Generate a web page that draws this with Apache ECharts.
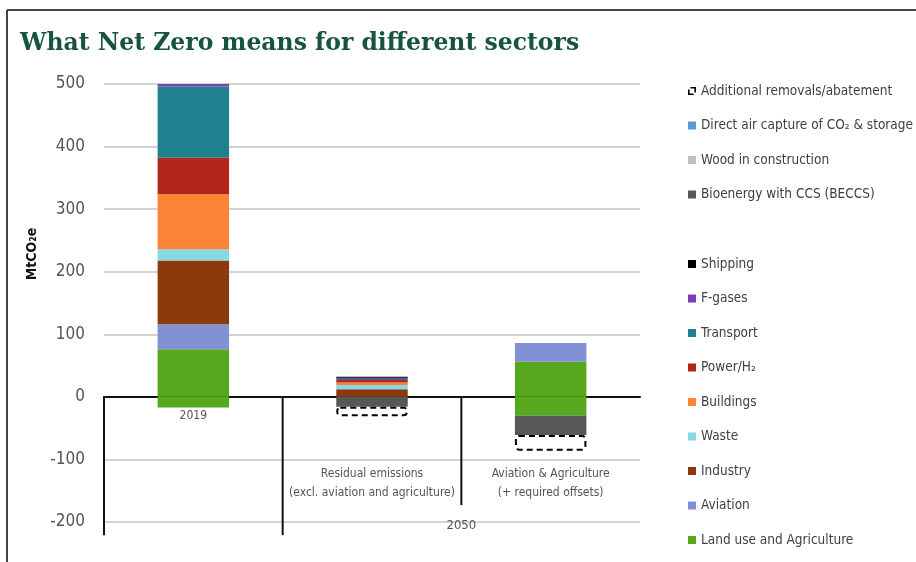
<!DOCTYPE html>
<html>
<head>
<meta charset="utf-8">
<script src="https://cdn.jsdelivr.net/npm/echarts@6/dist/echarts.min.js"></script>
<style>html,body{margin:0;padding:0;background:#fff;}#c{width:916px;height:562px;}</style>
</head>
<body>
<div id="c"></div>
<script>
// ---- data ----
const categories = ['2019', 'Residual emissions\n(excl. aviation and agriculture)', 'Aviation & Agriculture\n(+ required offsets)'];
const groupLabel = '2050';
const yTicks = { min: -200, max: 500, step: 100 };
const landUse = [76, null, 56];
const landUseSink = [-17, null, -30];
const aviation = [40, null, 30];
const industry = [102, 12, null];
const waste = [18, 7, null];
const buildings = [88, 4, null];
const power = [58, 4, null];
const transport = [114, 1.5, null];
const fgases = [4, 2, null];
const shipping = [null, 1.5, null];
const beccs = [null, -16, -31];
const wood = [null, null, null];
const dac = [null, null, null];
const removals = [null, -15, -25];

const legendTop = ['Additional removals/abatement', 'Direct air capture of CO\u2082 & storage', 'Wood in construction', 'Bioenergy with CCS (BECCS)'];
const legendBottom = ['Shipping', 'F-gases', 'Transport', 'Power/H\u2082', 'Buildings', 'Waste', 'Industry', 'Aviation', 'Land use and Agriculture'];

// ---- chart ----
const NARROW = '"Liberation Sans Narrow", "DejaVu Sans Condensed", "Roboto", sans-serif';
const chart = echarts.init(document.getElementById('c'), null, { renderer: 'canvas' });

function bar(name, data, color, extra) {
  return Object.assign({
    name: name, type: 'bar', stack: 'total', data: data, barWidth: '40%',
    xAxisIndex: 0, yAxisIndex: 0,
    itemStyle: { color: color }, emphasis: { disabled: true }
  }, extra || {});
}

const removalIcon = 'path://M0,3 L0,10 L7,10 L7,8 L2,8 L2,3 Z M3,0 L10,0 L10,7 L8,7 L8,2 L3,2 Z';
const legendText = { fontFamily: NARROW, fontSize: 13.5, color: '#404040', lineHeight: 16 };

chart.setOption({
  animation: false,
  title: {
    text: 'What Net Zero means for different sectors',
    left: 20, top: 32, padding: 0,
    textStyle: { fontFamily: '"DejaVu Serif", "Liberation Serif", serif', fontWeight: 'bold', fontSize: 23.5, color: '#17553a' }
  },
  grid: { left: 104, right: 276, top: 84, bottom: 40, containLabel: false, outerBoundsMode: 'none' },
  legend: [
    {
      orient: 'vertical', left: 688, top: 83, padding: 0, itemWidth: 8, itemHeight: 8, itemGap: 18.5,
      textStyle: legendText,
      data: [
        { name: legendTop[0], icon: removalIcon, itemStyle: { color: '#000', borderWidth: 0 } },
        { name: legendTop[1], icon: 'rect' },
        { name: legendTop[2], icon: 'rect' },
        { name: legendTop[3], icon: 'rect' }
      ]
    },
    {
      orient: 'vertical', left: 688, top: 256, padding: 0, itemWidth: 8, itemHeight: 8, itemGap: 18.5,
      textStyle: legendText,
      data: legendBottom.map(n => ({ name: n, icon: 'rect' }))
    }
  ],
  xAxis: [
    {
      type: 'category', data: categories, position: 'bottom',
      axisLine: { onZero: true, lineStyle: { color: '#111', width: 2 } },
      axisTick: { show: false },
      axisLabel: {
        interval: 0, margin: -112, color: '#555', fontFamily: NARROW, fontSize: 12,
        formatter: function (v, i) { return i === 0 ? v : ''; }
      },
      splitLine: { show: false }
    },
    {
      type: 'category', data: categories, position: 'bottom',
      axisLine: { show: false, onZero: false }, axisTick: { show: false }, splitLine: { show: false },
      axisLabel: {
        interval: 0, margin: -58, color: '#555', fontFamily: NARROW, fontSize: 12, lineHeight: 19,
        formatter: function (v, i) { return i === 0 ? '' : v; }
      }
    },
    {
      type: 'value', min: 0, max: 3, interval: 1, position: 'bottom',
      axisLine: { show: false, onZero: false }, axisTick: { show: false }, splitLine: { show: false },
      axisLabel: {
        margin: -3, color: '#555', fontFamily: NARROW, fontSize: 13,
        formatter: function (v) { return v === 2 ? groupLabel : ''; }
      }
    }
  ],
  yAxis: {
    type: 'value', min: yTicks.min, max: yTicks.max, interval: yTicks.step,
    name: 'MtCO\u2082e', nameLocation: 'middle', nameGap: 62, nameRotate: 90,
    nameTextStyle: { fontFamily: NARROW, fontWeight: 'bold', fontSize: 14, color: '#111', padding: [0, 0, 0, 98] },
    axisLine: { show: false }, axisTick: { show: false },
    axisLabel: { margin: 19, color: '#555', fontFamily: NARROW, fontSize: 17 },
    splitLine: { lineStyle: { color: '#c4c4c4', width: 1.5 } }
  },
  series: [
    bar('Land use and Agriculture', landUse, '#57a81f'),
    bar('Aviation', aviation, '#8290d6'),
    bar('Industry', industry, '#8c3a0d'),
    bar('Waste', waste, '#86d8e4'),
    bar('Buildings', buildings, '#fb8436'),
    bar('Power/H\u2082', power, '#b3261a'),
    bar('Transport', transport, '#21808f'),
    bar('F-gases', fgases, '#7a3fb3'),
    bar('Shipping', shipping, '#000000'),
    bar('Land use and Agriculture', landUseSink, '#57a81f'),
    bar('Bioenergy with CCS (BECCS)', beccs, '#575757'),
    bar('Wood in construction', wood, '#c0c0c0'),
    bar('Direct air capture of CO\u2082 & storage', dac, '#5b9bd5'),
    bar('Additional removals/abatement', removals, 'rgba(255,255,255,0)', {
      itemStyle: { color: 'rgba(255,255,255,0)', borderColor: '#000', borderWidth: 2, borderType: [6, 4], borderRadius: 3 }
    })
  ]
});

// ---- decorations: multi-level category dividers and frame ----
const yZero = chart.convertToPixel({ yAxisIndex: 0 }, 0);
const yLow = chart.convertToPixel({ yAxisIndex: 0 }, -221);
const yMid = chart.convertToPixel({ yAxisIndex: 0 }, -173);
const xb = [0, 1, 2].map(v => chart.convertToPixel({ xAxisIndex: 2 }, v));
const divStyle = { stroke: '#111', lineWidth: 2 };
chart.setOption({
  graphic: [
    { type: 'line', shape: { x1: xb[0], y1: yZero, x2: xb[0], y2: yLow }, style: divStyle, silent: true },
    { type: 'line', shape: { x1: xb[1], y1: yZero, x2: xb[1], y2: yLow }, style: divStyle, silent: true },
    { type: 'line', shape: { x1: xb[2], y1: yZero, x2: xb[2], y2: yMid }, style: divStyle, silent: true },
    { type: 'line', shape: { x1: 7, y1: 10, x2: 916, y2: 10 }, style: { stroke: '#444', lineWidth: 2 }, silent: true },
    { type: 'line', shape: { x1: 7, y1: 10, x2: 7, y2: 562 }, style: { stroke: '#444', lineWidth: 2 }, silent: true }
  ]
});
</script>
</body>
</html>
